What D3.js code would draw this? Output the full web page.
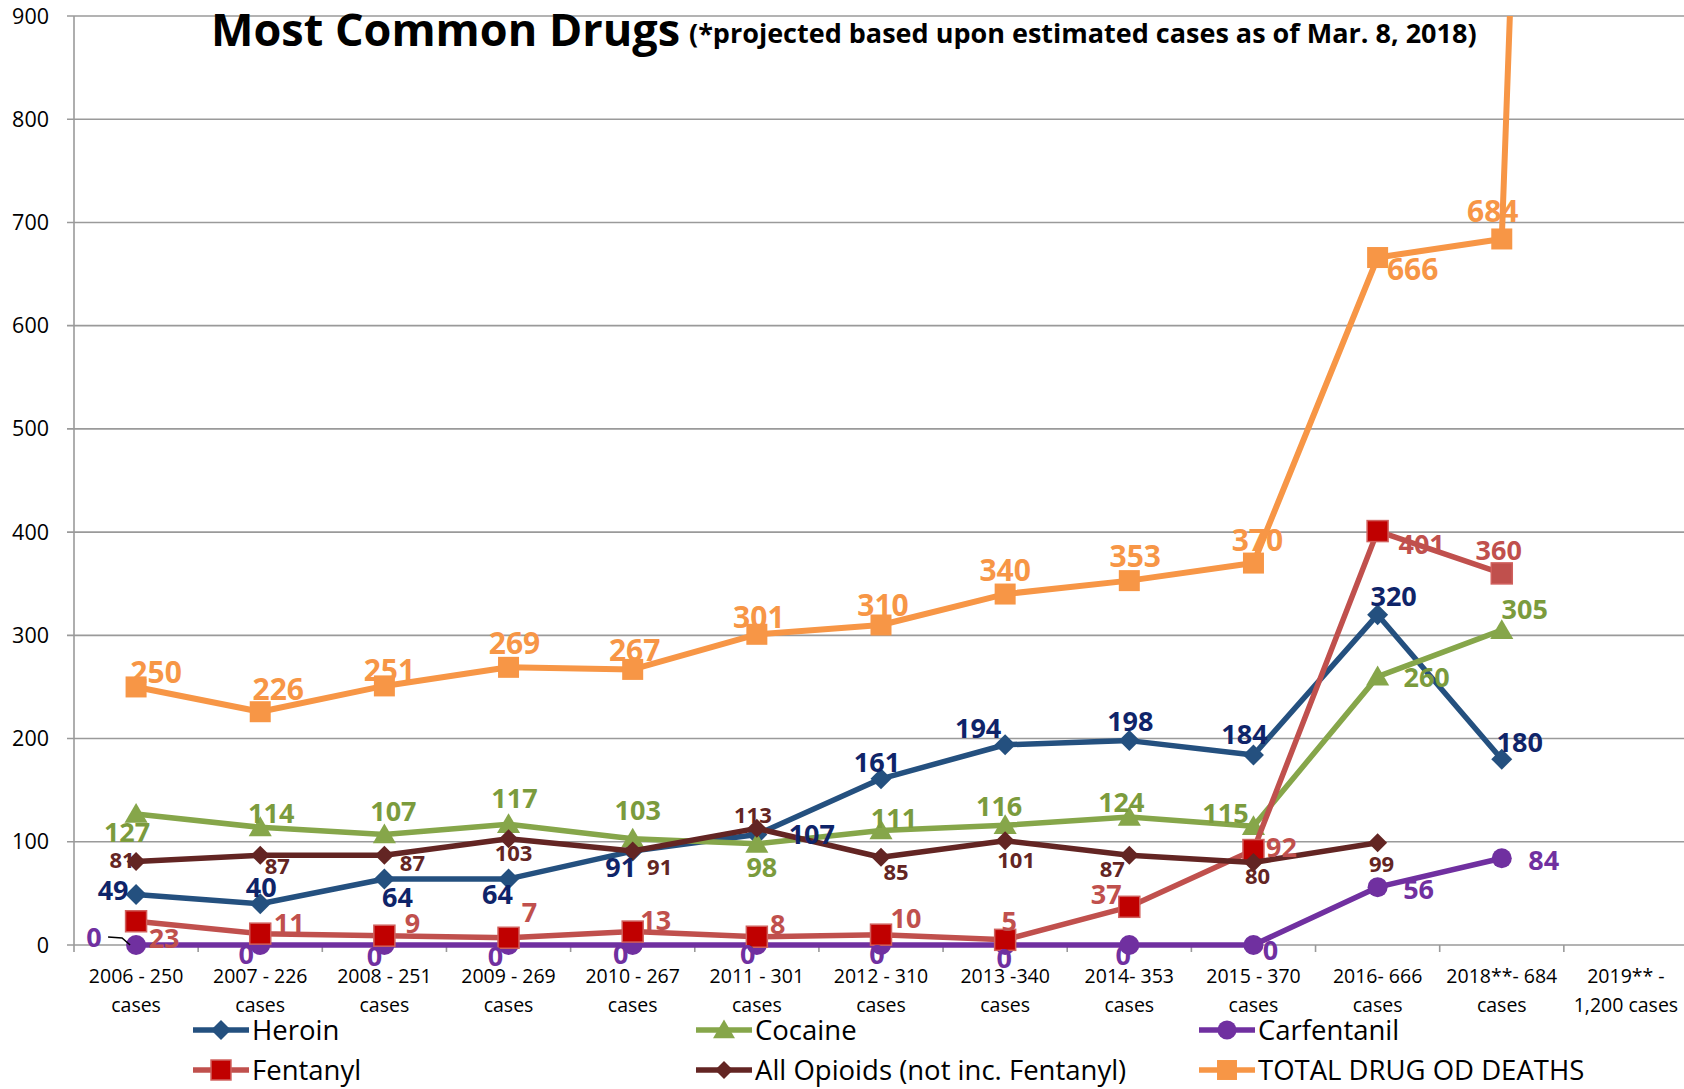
<!DOCTYPE html>
<html>
<head>
<meta charset="utf-8">
<script src="https://cdn.jsdelivr.net/npm/d3@7"></script>
<style>
  body { margin: 0; background: #fff; }
  text { font-family: "Open Sans", "DejaVu Sans", sans-serif; }
</style>
</head>
<body>
<div id="chart"></div>
<script>
// data
const categories = ["2006", "2007", "2008", "2009", "2010", "2011", "2012", "2013", "2014", "2015", "2016", "2018", "2019"];
const tickLabels = ["2006 - 250\ncases", "2007 - 226\ncases", "2008 - 251\ncases", "2009 - 269\ncases", "2010 - 267\ncases",
  "2011 - 301\ncases", "2012 - 310\ncases", "2013 -340\ncases", "2014- 353\ncases", "2015 - 370\ncases",
  "2016- 666\ncases", "2018**- 684\ncases", "2019** -\n1,200 cases"];
const yTicks = [0, 100, 200, 300, 400, 500, 600, 700, 800, 900];

const heroin = [49, 40, 64, 64, 91, 107, 161, 194, 198, 184, 320, 180];
const cocaine = [127, 114, 107, 117, 103, 98, 111, 116, 124, 115, 260, 305];
const carfentanil = [0, 0, 0, 0, 0, 0, 0, 0, 0, 0, 56, 84];
const fentanyl = [23, 11, 9, 7, 13, 8, 10, 5, 37, 92, 401, 360];
const opioids = [81, 87, 87, 103, 91, 113, 85, 101, 87, 80, 99];
const totalDeaths = [250, 226, 251, 269, 267, 301, 310, 340, 353, 370, 666, 684, 4000];

// where each data label sits relative to its point (dx, dy in px)
const heroinLbl = [[-23,-4],[1,-16],[13,18],[-11,15],[-12,16],[55,0],[-4,-17],[-27,-16],[1,-19],[-9,-21],[16,-18],[18,-17]];
const cocaineLbl = [[-9,18],[11,-14],[9,-23],[6,-26],[5,-28],[5,23],[13,-12],[-6,-19],[-8,-15],[-28,-13],[49,1],[23,-21]];
const carfLbl = [[-42,-8],[-14,9],[-10,11],[-13,11],[-12,9],[-9,9],[-4,9],[-1,13],[-6,10],[17,5],[41,2],[42,2]];
const fentLbl = [[28,17],[29,-10],[28,-12],[21,-25],[23,-11],[21,-12],[25,-16],[4,-19],[-23,-13],[28,-3],[44,13],[-3,-23]];
const opioidLbl = [[-14,-1],[17,11],[28,8],[5,14],[27,16],[-4,-13],[15,15],[11,19],[-17,14],[4,14],[4,21]];
const totalLbl = [[20,-15],[18,-23],[5,-16],[6,-24],[2,-19],[2,-17],[2,-20],[0,-24],[6,-24],[4,-23],[35,12],[-9,-28]];

const series = [
  { name: "Heroin", values: heroin, lbl: heroinLbl, line: "#24507f", marker: "diamond", fill: "#24507f", stroke: "none", text: "#0f2469", fs: 27, r: 10.5 },
  { name: "Cocaine", values: cocaine, lbl: cocaineLbl, line: "#86a64a", marker: "triangle", fill: "#86a64a", stroke: "none", text: "#7b9b3d", fs: 27, r: 11 },
  { name: "Carfentanil", values: carfentanil, lbl: carfLbl, line: "#7030a0", marker: "circle", fill: "#7030a0", stroke: "none", text: "#7030a0", fs: 27, r: 10 },
  { name: "Fentanyl", values: fentanyl, lbl: fentLbl, line: "#c0504d", marker: "square", fill: "#c00000", stroke: "#d0605d", text: "#c0504d", fs: 27, r: 10.5,
    pointFill: { 11: "#c0504d" } },
  { name: "All Opioids (not inc. Fentanyl)", values: opioids, lbl: opioidLbl, line: "#632523", marker: "diamond", fill: "#632523", stroke: "none", text: "#632523", fs: 22, r: 9.5 },
  { name: "TOTAL DRUG OD DEATHS", values: totalDeaths, lbl: totalLbl, line: "#f79646", marker: "square", fill: "#f79646", stroke: "none", text: "#f79646", fs: 30, r: 10.5 }
];

const W = 1684, H = 1089;
const plot = { left: 74, right: 1688, top: 16, bottom: 945 };

const svg = d3.select("#chart").append("svg")
  .attr("width", W).attr("height", H);

const x = d3.scaleBand().domain(categories).range([plot.left, plot.right]).padding(0);
const cx = c => x(c) + x.bandwidth() / 2;
const y = d3.scaleLinear().domain([0, 900]).range([plot.bottom, plot.top]);

// grid lines
svg.append("g").selectAll("line").data(yTicks).enter().append("line")
  .attr("x1", plot.left - 7).attr("x2", W)
  .attr("y1", d => y(d)).attr("y2", d => y(d))
  .attr("stroke", "#9a9a9a").attr("stroke-width", 1.6);

// y axis
svg.append("line").attr("x1", plot.left).attr("x2", plot.left)
  .attr("y1", plot.top).attr("y2", plot.bottom)
  .attr("stroke", "#9a9a9a").attr("stroke-width", 1.6);
svg.append("g").selectAll("text").data(yTicks).enter().append("text")
  .attr("x", 49).attr("y", d => y(d)).attr("dy", "0.35em")
  .attr("text-anchor", "end").attr("font-size", 21.5).attr("fill", "#000")
  .text(d => d);

// x axis ticks at band edges
svg.append("g").selectAll("line").data(categories.concat(["end"])).enter().append("line")
  .attr("x1", (d, i) => plot.left + i * x.bandwidth())
  .attr("x2", (d, i) => plot.left + i * x.bandwidth())
  .attr("y1", plot.bottom).attr("y2", plot.bottom + 7)
  .attr("stroke", "#9a9a9a").attr("stroke-width", 1.6);

const xl = svg.append("g").selectAll("text").data(categories).enter().append("text")
  .attr("text-anchor", "middle").attr("font-size", 19.5).attr("fill", "#000");
xl.each(function(d, i) {
  const lines = tickLabels[i].split("\n");
  lines.forEach((t, j) => {
    d3.select(this).append("tspan")
      .attr("x", cx(d)).attr("y", 983 + j * 28.5).text(t);
  });
});

// title
svg.append("text").attr("x", 211).attr("y", 46)
  .attr("font-size", 45).attr("font-weight", "bold").attr("fill", "#000")
  .text("Most Common Drugs");
svg.append("text").attr("x", 689).attr("y", 43)
  .attr("font-size", 27).attr("font-weight", "bold").attr("fill", "#000")
  .text("(*projected based upon estimated cases as of Mar. 8, 2018)");

function drawMarker(g, s, fill) {
  const r = s.r;
  if (s.marker === "circle") {
    g.append("circle").attr("r", r);
  } else if (s.marker === "square") {
    g.append("rect").attr("x", -r).attr("y", -r).attr("width", 2 * r).attr("height", 2 * r);
  } else if (s.marker === "diamond") {
    g.append("path").attr("d", `M0,${-r}L${r},0L0,${r}L${-r},0Z`);
  } else {
    g.append("path").attr("d", `M0,${-r}L${r * 1.05},${r * 0.8}L${-r * 1.05},${r * 0.8}Z`);
  }
  g.selectAll("*").attr("fill", fill || s.fill).attr("stroke", s.stroke).attr("stroke-width", 1.5);
}

svg.append("clipPath").attr("id", "clip").append("rect")
  .attr("x", plot.left).attr("y", plot.top).attr("width", W - plot.left).attr("height", H - plot.top);

const lineGen = d3.line().x((d, i) => cx(categories[i])).y(d => y(d));
const plotG = svg.append("g").attr("clip-path", "url(#clip)");

series.forEach(s => {
  plotG.append("path").datum(s.values)
    .attr("d", lineGen)
    .attr("fill", "none").attr("stroke", s.line)
    .attr("stroke-width", s.name === "TOTAL DRUG OD DEATHS" ? 6 : 5.5)
    .attr("stroke-linejoin", "round");
  s.values.forEach((v, i) => {
    const g = plotG.append("g").attr("transform", `translate(${cx(categories[i])},${y(v)})`);
    drawMarker(g, s, s.pointFill && s.pointFill[i]);
  });
});

// leader line for the first carfentanil label
svg.append("path")
  .attr("d", `M${cx(categories[0]) - 28},${y(0) - 8}L${cx(categories[0]) - 14},${y(0) - 7}L${cx(categories[0]) - 6},${y(0)}`)
  .attr("fill", "none").attr("stroke", "#000").attr("stroke-width", 1.5);

// data labels
series.forEach(s => {
  s.lbl.forEach((o, i) => {
    svg.append("text")
      .attr("x", cx(categories[i]) + o[0]).attr("y", y(s.values[i]) + o[1])
      .attr("dy", "0.36em").attr("text-anchor", "middle")
      .attr("font-size", s.fs).attr("font-weight", "bold").attr("fill", s.text)
      .text(s.values[i]);
  });
});

// legend
const legendPos = [[193, 1030], [696, 1030], [1199, 1030], [193, 1070], [696, 1070], [1199, 1070]];
const legendOrder = ["Heroin", "Cocaine", "Carfentanil", "Fentanyl", "All Opioids (not inc. Fentanyl)", "TOTAL DRUG OD DEATHS"];
legendOrder.forEach((n, k) => {
  const s = series.find(d => d.name === n);
  const [lx, ly] = legendPos[k];
  const g = svg.append("g").attr("transform", `translate(${lx},${ly})`);
  g.append("line").attr("x1", 0).attr("x2", 56).attr("y1", 0).attr("y2", 0)
    .attr("stroke", s.line).attr("stroke-width", 5.5);
  const m = g.append("g").attr("transform", "translate(28,0)");
  drawMarker(m, Object.assign({}, s, { r: s.r * 0.95 }));
  g.append("text").attr("x", 59).attr("y", 0).attr("dy", "0.36em")
    .attr("font-size", 27.5).attr("fill", "#000").text(n);
});
</script>
</body>
</html>
